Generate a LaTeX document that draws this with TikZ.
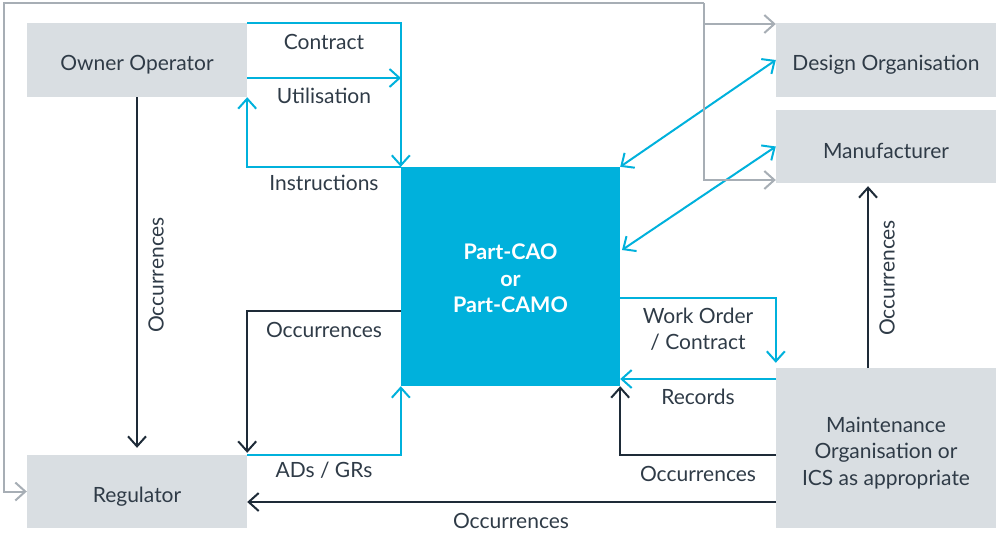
\documentclass[tikz,border=0pt]{standalone}
\usepackage{fontspec}
\setmainfont{Lato}
\usepackage{xcolor}
\usetikzlibrary{arrows.meta}
\definecolor{bleu}{HTML}{00B1DC}
\definecolor{gris}{HTML}{D9DEE2}
\definecolor{trait}{HTML}{A7AEB5}
\definecolor{encre}{HTML}{1E2B38}
\definecolor{texte}{HTML}{2F3B47}
\newcommand{\haut}[1]{\rule{0pt}{#1}}

\begin{document}
\begin{tikzpicture}[x=1pt,y=-1pt]
    % Styles
    \tikzstyle{boite}=[fill=gris,text=texte,minimum width=220pt,inner sep=0pt,align=center,font=\fontsize{21}{26.5}\selectfont]
    \tikzstyle{centre}=[fill=bleu,text=white,minimum width=219pt,minimum height=219pt,inner sep=0pt,align=center,font=\fontsize{21.5}{26.5}\selectfont\bfseries]
    \tikzstyle{etiquette}=[text=texte,inner sep=0pt,align=center,font=\fontsize{21}{26.5}\selectfont]
    \tikzstyle{fleche}=[-{Straight Barb[length=10pt,width=18pt]},line width=2pt]
    \tikzstyle{bleue}=[fleche,bleu]
    \tikzstyle{noire}=[fleche,encre]
    \tikzstyle{grise}=[fleche,trait]
    \useasboundingbox (0,0) rectangle (1001,533);
    % Noeuds
    \node[boite,minimum height=74pt] (Own) at (137,60) {\haut{25pt}Owner Operator};
    \node[boite,minimum height=73pt] (Reg) at (137,491.5) {\haut{25pt}Regulator};
    \node[boite,minimum height=74pt] (Des) at (886,60) {\haut{25pt}Design Organisation};
    \node[boite,minimum height=73pt] (Man) at (886,146.5) {\haut{25pt}Manufacturer};
    \node[boite,minimum height=160pt] (Mnt) at (886,448) {\haut{25pt}Maintenance\\Organisation or\\ICS as appropriate};
    \node[centre] (Camo) at (510.5,276.5) {\haut{19.5pt}Part-CAO\\or\\Part-CAMO};
    % Points
    \coordinate (u) at (401,78);
    \coordinate (o) at (401,311);
    \coordinate (w) at (620,298);
    \coordinate (r) at (776,379);
    \coordinate (m) at (776,455);
    \coordinate (b) at (776,502);
    \coordinate (d) at (622,250);
    \coordinate (v) at (868,368);
    \coordinate (fourche) at (704,3);
    \coordinate (coin) at (4,3);
    \coordinate (bD) at (704,24);
    \coordinate (bM) at (704,180);
    % Arcs
    \draw[bleue] (Own.north east) -| (Camo.north west);
    \draw[bleue] (Own.east |- u) -- (u);
    \draw[bleue] (Camo.north west) -| (Own.south east);
    \draw[noire,shorten >=7pt] (Own.south) -- (Reg.north);
    \draw[noire,shorten >=2pt] (o) -| (Reg.north east);
    \draw[bleue] (Reg.north east) -| (Camo.south west);
    \draw[noire] (b) -- (Reg.east |- b);
    \draw[bleue,shorten >=5pt] (w) -| (Mnt.north west);
    \draw[bleue] (r) -- (Camo.east |- r);
    \draw[noire] (m) -| (Camo.south east);
    \draw[noire,shorten >=3pt] (v) -- (Man.south -| v);
    \draw[bleue,{Straight Barb[length=10pt,width=18pt]}-{Straight Barb[length=10pt,width=18pt]}] (Camo.north east) -- (Des.west);
    \draw[bleue,{Straight Barb[length=10pt,width=18pt]}-{Straight Barb[length=10pt,width=18pt]}] (d) -- (Man.west);
    \draw[grise] (fourche) -- (coin) |- (Reg.west);
    \draw[grise] (fourche) -- (bM) -- (Man.west |- bM);
    \draw[grise] (bD) -- (Des.west |- bD);
    % Etiquettes
    \node[etiquette] (lc) at (324,42) {Contract};
    \node[etiquette] (lu) at (324,96) {Utilisation};
    \node[etiquette] (li) at (324,183) {Instructions};
    \node[etiquette,rotate=90] (lo1) at (156,275) {Occurrences};
    \node[etiquette] (lo2) at (324,330) {Occurrences};
    \node[etiquette] (la) at (324,470) {ADs / GRs};
    \node[etiquette] (lo3) at (511,521) {Occurrences};
    \node[etiquette] (lw) at (698,329) {Work Order\\/ Contract};
    \node[etiquette] (lr) at (698,397) {Records};
    \node[etiquette] (lo4) at (698,474) {Occurrences};
    \node[etiquette,rotate=90] (lo5) at (887,278) {Occurrences};
\end{tikzpicture}
\end{document}
